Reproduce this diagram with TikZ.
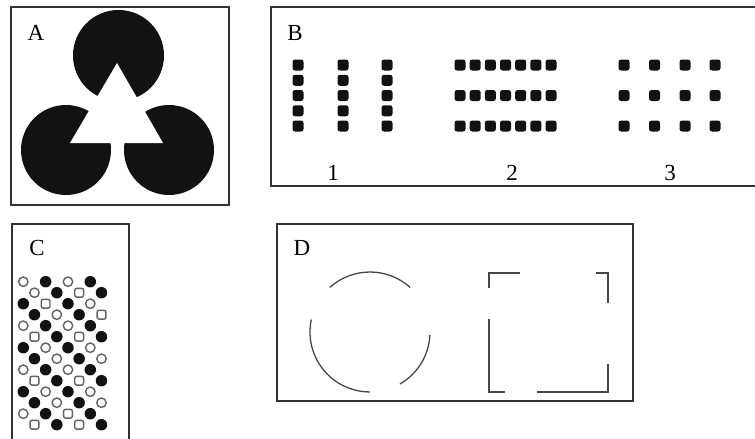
\documentclass[tikz,border=0pt]{standalone}
\usepackage{fontspec}
\setmainfont{Liberation Serif}
\usepackage{tikz}
\tikzset{
  panel/.style={draw=black!80, line width=1.3pt},
  tag/.style={inner sep=0pt, font=\fontsize{23}{25}\selectfont},
  blob/.style={fill=black!93},
  sqdot/.style={fill=black!93, rounded corners=2.5pt},
  gap/.style={draw=black!72, line width=1.3pt},
  pF/.style={circle, fill=black!93, inner sep=0pt, minimum size=11.5pt},
  pO/.style={circle, draw=black!62, line width=1.4pt, inner sep=0pt, minimum size=9.4pt},
  pS/.style={rectangle, rounded corners=2pt, draw=black!62, line width=1.4pt, inner sep=0pt, minimum size=8.8pt}
}

\begin{document}
\begin{tikzpicture}[x=1pt, y=-1pt]
  \useasboundingbox (0,0) rectangle (755,439);
  \clip (0,0) rectangle (755,439);

  % frames
  \draw[panel] (11,7) rectangle (229,205);
  \draw[panel] (271,7) rectangle (770,186);
  \draw[panel] (12,224) rectangle (129,460);
  \draw[panel] (277,224) rectangle (633,401);

  \node[tag] (tagA) at (36,33) {A};
  \node[tag] (tagB) at (295,33) {B};
  \node[tag] (tagC) at (37,248) {C};
  \node[tag] (tagD) at (302,248) {D};

  % A: three discs, white triangle on top
  \fill[blob] (118.5,55.5) circle (45.5pt);
  \fill[blob] (66,150) circle (45pt);
  \fill[blob] (169,150) circle (45pt);
  \fill[white] (117,63) -- (70,143) -- (163,143) -- cycle;

  % B: dot groups
  \foreach \cx in {298,343,387}
    \foreach \cy in {65,80.25,95.5,110.75,126}
      \fill[sqdot] (\cx-5.5,\cy-5.5) rectangle ++(11,11);
  \foreach \i in {0,...,6}
    \foreach \cy in {65,95.5,126}
      \fill[sqdot] (460+15.17*\i-5.5,\cy-5.5) rectangle ++(11,11);
  \foreach \cx in {624,654.5,685,715}
    \foreach \cy in {65,95.5,126}
      \fill[sqdot] (\cx-5.5,\cy-5.5) rectangle ++(11,11);

  \node[tag] (num1) at (333,173) {1};
  \node[tag] (num2) at (512,173) {2};
  \node[tag] (num3) at (670,173) {3};

  % C: rows of rings, discs and boxes
  \foreach \r/\ta/\tb/\tc/\td in {0/O/F/O/F, 1/O/F/S/F, 2/F/S/F/O, 3/F/O/F/S,
      4/O/F/O/F, 5/S/F/S/F, 6/F/O/F/O, 7/F/O/F/O, 8/O/F/O/F, 9/S/F/S/F,
      10/F/O/F/O, 11/F/O/F/O, 12/O/F/S/F, 13/S/F/S/F}
    \foreach \t [count=\k from 0] in {\ta,\tb,\tc,\td} {
      \pgfmathsetmacro\px{23.3+11.17*(2*\k+mod(\r,2))}
      \pgfmathsetmacro\py{281.7+11*\r}
      \node[p\t] (c-\r-\k) at (\px,\py) {};
    }

  % D: broken circle and broken square
  \draw[gap] (370,332) ++(48:60pt) arc[start angle=48, end angle=132, radius=60pt];
  \draw[gap] (370,332) ++(168:60pt) arc[start angle=168, end angle=270, radius=60pt];
  \draw[gap] (370,332) ++(-60:60pt) arc[start angle=-60, end angle=-3, radius=60pt];
  \draw[gap] (520,273) -- (489,273) -- (489,288);
  \draw[gap] (596,273) -- (608,273) -- (608,303);
  \draw[gap] (489,319) -- (489,392) -- (505,392);
  \draw[gap] (537,392) -- (608,392) -- (608,364);
\end{tikzpicture}
\end{document}
